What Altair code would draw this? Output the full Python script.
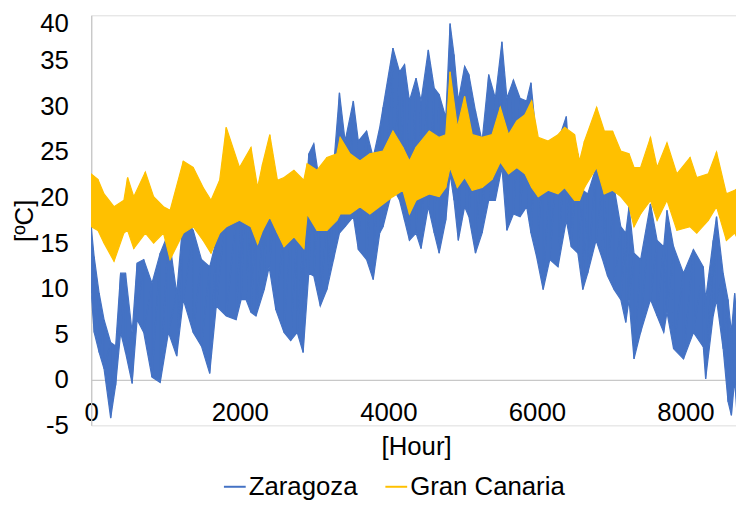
import altair as alt
import pandas as pd

# ---- data (hour, upper envelope, lower envelope) ----
zar_hours = [0, 40, 107, 173, 262, 329, 396, 462, 551, 618, 707, 818, 929, 1040, 1151, 1240,
             1373, 1484, 1595, 1684, 1818, 1951, 2018, 2084, 2151, 2218, 2329, 2396, 2485,
             2596, 2685, 2773, 2853, 2929, 2996, 3084, 3173, 3262, 3342, 3418, 3529, 3596,
             3707, 3796, 3884, 3929, 4062, 4151, 4218, 4284, 4373, 4440, 4538, 4618, 4684,
             4773, 4831, 4884, 4942, 5027, 5084, 5173, 5262, 5351, 5440, 5529, 5596, 5684,
             5773, 5862, 5920, 5996, 6084, 6173, 6284, 6396, 6462, 6551, 6618, 6684, 6796,
             6884, 6951, 7040, 7129, 7196, 7240, 7307, 7396, 7529, 7618, 7707, 7751, 7840,
             7973, 8107, 8240, 8271, 8373, 8418, 8507, 8573, 8618, 8662, 8700]
zar_high = [16.8, 13.5, 9.5, 6.6, 4.1, 3.7, 11.7, 11.7, 5.2, 12.8, 13.2, 10.6, 13.9, 16.1, 9.5, 17.9,
            16.4, 13.2, 12.4, 15.3, 19.0, 17.9, 18.2, 23.7, 19.0, 17.9, 18.2, 26.2, 20.4,
            16.4, 16.1, 16.4, 15.3, 24.8, 25.9, 21.1, 17.9, 23.3, 31.5, 26.2, 30.6, 26.2,
            27.3, 24.4, 27.7, 29.9, 36.4, 33.8, 34.6, 30.6, 33.1, 30.6, 36.2, 32.0, 31.3,
            28.8, 39.1, 35.7, 30.6, 34.4, 33.5, 29.5, 26.2, 33.5, 30.9, 37.1, 30.9, 32.9,
            30.9, 30.6, 32.6, 26.2, 23.3, 22.6, 26.2, 28.9, 21.5, 24.8, 20.8, 20.4, 23.3,
            21.9, 21.1, 21.1, 16.8, 16.1, 19.0, 13.9, 13.2, 19.3, 15.3, 14.6, 18.6, 14.6,
            11.7, 14.3, 12.4, 8.8, 15.3, 17.9, 11.7, 8.8, 5.2, 9.5, 6.0]
zar_low = [9.5, 5.2, 3.0, 1.2, -4.2, -0.6, 5.2, 3.0, -0.4, 6.6, 5.2, 0.3, -0.3, 5.2, 2.6, 8.8,
           5.2, 3.7, 0.7, 8.1, 7.0, 6.6, 8.8, 8.8, 7.4, 7.0, 9.9, 12.4, 7.7,
           5.2, 4.3, 5.2, 3.0, 11.7, 11.4, 8.1, 9.9, 13.2, 16.1, 16.8, 17.9, 14.3,
           13.2, 11.0, 16.1, 16.8, 21.1, 19.7, 17.5, 15.3, 16.1, 14.4, 19.0, 16.1, 13.9,
           17.5, 22.6, 19.7, 15.3, 19.0, 17.9, 13.9, 16.1, 19.7, 19.7, 23.3, 16.4, 18.2,
           17.9, 19.0, 16.1, 13.5, 9.9, 13.2, 12.4, 17.5, 14.6, 13.9, 9.9, 11.7, 15.3,
           13.2, 11.4, 9.9, 8.8, 6.3, 8.8, 2.3, 5.2, 8.8, 7.0, 5.2, 7.4, 3.4,
           2.3, 5.2, 3.6, 0.1, 7.0, 8.8, 3.4, -2.4, -3.9, 0.0, -4.5]

gc_hours = [0, 90, 173, 307, 440, 490, 573, 729, 840, 973, 1062, 1240, 1373, 1507, 1613, 1729,
            1818, 1996, 2151, 2240, 2307, 2404, 2507, 2596, 2729, 2862, 2907, 3040, 3173,
            3307, 3351, 3484, 3618, 3751, 3929, 4062, 4196, 4284, 4373, 4551, 4684, 4773,
            4831, 4929, 5027, 5129, 5262, 5396, 5507, 5618, 5729, 5840, 5929, 6018, 6151,
            6284, 6373, 6507, 6573, 6640, 6804, 6907, 7018, 7129, 7240, 7307, 7396, 7529,
            7618, 7751, 7884, 8062, 8151, 8307, 8418, 8551, 8662, 8700]
gc_high = [22.6, 22.0, 20.4, 19.0, 19.7, 22.2, 20.1, 22.8, 20.1, 19.0, 18.6, 24.0, 23.3, 21.1, 19.7, 21.9,
           27.7, 23.3, 25.5, 21.1, 23.7, 26.9, 21.9, 22.2, 23.0, 21.9, 23.7, 23.0, 24.4,
           24.8, 26.6, 24.8, 24.0, 24.8, 25.1, 27.3, 25.5, 24.0, 25.5, 27.3, 26.6, 26.9,
           33.8, 27.7, 31.1, 26.9, 26.6, 26.9, 29.9, 26.9, 28.4, 29.1, 30.6, 26.6, 26.2,
           26.9, 27.7, 26.9, 24.0, 26.2, 29.9, 27.3, 27.3, 25.1, 24.8, 23.3, 23.3, 26.6,
           23.3, 26.0, 22.6, 24.4, 22.2, 22.6, 25.0, 20.4, 20.8, 21.0]
gc_low = [16.8, 16.4, 15.0, 13.0, 16.1, 16.4, 14.4, 16.1, 15.0, 16.1, 13.2, 16.1, 16.8, 15.3, 13.9, 16.1,
          16.8, 17.5, 16.8, 14.9, 16.4, 17.9, 16.1, 14.6, 15.7, 14.4, 18.2, 16.4, 16.4,
          17.5, 18.2, 18.2, 19.0, 18.2, 19.3, 20.1, 20.8, 18.2, 19.7, 20.4, 20.1, 21.1,
          23.3, 21.1, 22.2, 20.8, 21.1, 22.0, 23.9, 22.6, 23.3, 22.6, 21.1, 20.1, 20.8,
          20.4, 21.1, 19.7, 19.7, 21.1, 23.3, 20.4, 20.8, 20.1, 19.0, 16.8, 18.2, 19.7,
          17.5, 19.7, 16.4, 16.8, 16.1, 17.5, 19.0, 15.3, 16.1, 15.5]

series_names = ["Zaragoza", "Gran Canaria"]
series_colors = ["#4472C4", "#FFC000"]
x_ticks = [0, 2000, 4000, 6000, 8000]
y_ticks = [-5, 0, 5, 10, 15, 20, 25, 30, 35, 40]

# ---- tables built from the arrays ----
band_rows = []
zig_rows = []
for name, hrs, hi, lo in [("Zaragoza", zar_hours, zar_high, zar_low),
                          ("Gran Canaria", gc_hours, gc_high, gc_low)]:
    k = 0
    for h, a, b in zip(hrs, hi, lo):
        band_rows.append({"series": name, "hour": h, "hi": a, "lo": b})
        zig_rows.append({"series": name, "hour": h, "t": a, "k": k}); k += 1
        zig_rows.append({"series": name, "hour": h, "t": b, "k": k}); k += 1
band = pd.DataFrame(band_rows)
zig = pd.DataFrame(zig_rows)

FONT = "Liberation Sans"
FS = 26

xscale = alt.Scale(domain=[0, 8680], nice=False, zero=False)
yscale = alt.Scale(domain=[-5, 40], nice=False, zero=False)

x_axis = alt.Axis(values=x_ticks, title="[Hour]", offset=-46, grid=False, ticks=False,
                  labelExpr="'' + datum.value",
                  domainColor="#c8c8c8", domainWidth=1.3, labelFlush=False, labelOverlap=False,
                  labelPadding=20, labelFontSize=FS, labelFont=FONT, labelColor="black",
                  titleFontSize=FS, titleFont=FONT, titleColor="black", titleFontWeight="normal",
                  titleBaseline="alphabetic", titleY=75, titleX=328)
y_axis = alt.Axis(values=y_ticks, title="[ºC]", grid=False, ticks=False,
                  labelExpr="'' + datum.value",
                  labelOffset=alt.condition("datum.value == 40", alt.value(8), alt.value(0)),
                  domainColor="#c8c8c8", domainWidth=1.3,
                  labelPadding=23, labelFontSize=FS, labelFont=FONT, labelColor="black",
                  titleFontSize=FS, titleFont=FONT, titleColor="black", titleFontWeight="normal",
                  titleBaseline="middle", titleX=-67, titleY=207, titleAngle=-90)

color_enc = alt.Color("series:N",
                      scale=alt.Scale(domain=series_names, range=series_colors),
                      legend=alt.Legend(orient="none", legendX=132, legendY=463,
                                        direction="horizontal", title=None,
                                        symbolType="stroke", symbolSize=484,
                                        symbolStrokeWidth=2, labelFontSize=FS,
                                        labelFont=FONT, labelColor="black",
                                        labelOffset=1, columnPadding=24, padding=0))


def band_layer(name, col):
    return alt.Chart(band).transform_filter(alt.datum.series == name).mark_area(
        clip=True, color=col, stroke=col, strokeWidth=1.2, opacity=1
    ).encode(
        x=alt.X("hour:Q", scale=xscale, axis=x_axis),
        y=alt.Y("hi:Q", scale=yscale, axis=y_axis),
        y2="lo:Q",
    )


def zig_layer(name):
    return alt.Chart(zig).transform_filter(alt.datum.series == name).mark_line(
        clip=True, strokeWidth=1.3
    ).encode(
        x=alt.X("hour:Q", scale=xscale),
        y=alt.Y("t:Q", scale=yscale),
        order="k:Q",
        color=color_enc,
    )


chart = alt.layer(
    band_layer("Zaragoza", series_colors[0]),
    zig_layer("Zaragoza"),
    band_layer("Gran Canaria", series_colors[1]),
    zig_layer("Gran Canaria"),
).properties(
    width=651, height=414,
    autosize=alt.AutoSizeParams(type="none"),
    padding={"left": 84, "top": 5, "right": 0, "bottom": 75},
).configure_view(stroke=None).configure(background="white")

chart.save("out.html", embed_options={"renderer": "svg", "actions": False})
